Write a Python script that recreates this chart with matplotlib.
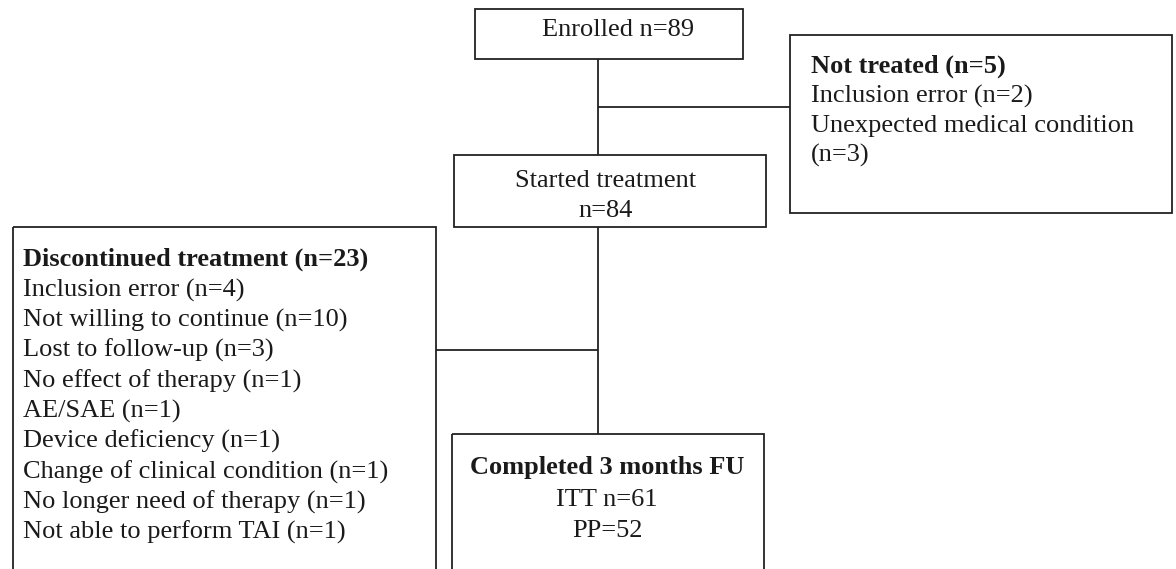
import matplotlib
matplotlib.use('Agg')
from matplotlib import pyplot as plt
from matplotlib.patches import Rectangle

# flowchart content
enrolled_lines = ['Enrolled n=89']
not_treated_title = 'Not treated (n=5)'
not_treated_lines = ['Inclusion error (n=2)', 'Unexpected medical condition', '(n=3)']
started_lines = ['Started treatment', 'n=84']
discontinued_title = 'Discontinued treatment (n=23)'
discontinued_lines = [
    'Inclusion error (n=4)',
    'Not willing to continue (n=10)',
    'Lost to follow-up (n=3)',
    'No effect of therapy (n=1)',
    'AE/SAE (n=1)',
    'Device deficiency (n=1)',
    'Change of clinical condition (n=1)',
    'No longer need of therapy (n=1)',
    'Not able to perform TAI (n=1)',
]
completed_title = 'Completed 3 months FU'
completed_lines = ['ITT n=61', 'PP=52']

W, H = 1176, 569
LINE = '#222222'
TXT = '#1a1a1a'
FS = 19
FONT = ['Liberation Serif', 'DejaVu Serif']

fig = plt.figure(figsize=(W / 100, H / 100), dpi=100)
ax = fig.add_axes([0, 0, 1, 1])
ax.set_xlim(0, W)
ax.set_ylim(H, 0)
ax.axis('off')


def box(x0, y0, x1, y1):
    ax.add_patch(Rectangle((x0, y0), x1 - x0, y1 - y0, fill=False,
                           edgecolor=LINE, lw=1.3, clip_on=True))


def line(xs, ys):
    ax.plot(xs, ys, color=LINE, lw=1.3, solid_capstyle='butt')


def text_block(x, y0, step, lines, title=None, ha='left'):
    y = y0
    if title is not None:
        ax.text(x, y, title, fontsize=FS, fontweight='bold', ha=ha,
                va='baseline', color=TXT, family=FONT)
        y += step
    for s in lines:
        ax.text(x, y, s, fontsize=FS, ha=ha, va='baseline', color=TXT,
                family=FONT)
        y += step


# boxes
box(475, 9, 743, 59)        # enrolled
box(790, 35, 1172, 213)     # not treated
box(454, 155, 766, 227)     # started
box(13, 227, 436, 600)      # discontinued (runs off the bottom)
box(452, 434, 764, 600)     # completed (runs off the bottom)

# connectors
line([598, 598], [59, 155])
line([598, 790], [107, 107])
line([598, 598], [227, 434])
line([436, 598], [350, 350])

# texts
text_block(618, 36, 30, enrolled_lines, ha='center')
text_block(811, 73, 29.5, not_treated_lines, title=not_treated_title)
text_block(606, 187, 30, started_lines, ha='center')
text_block(23, 266, 30.3, discontinued_lines, title=discontinued_title)
text_block(607, 474, 31.5, completed_lines, title=completed_title, ha='center')

fig.savefig('out.png', dpi=100)
